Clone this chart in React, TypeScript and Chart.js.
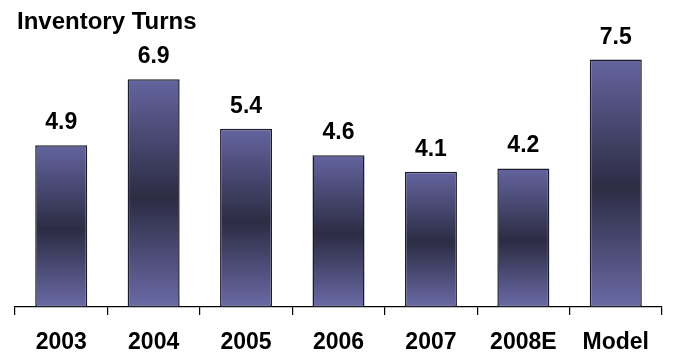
import React, { useEffect, useRef } from "react";
import { Chart, registerables } from "chart.js";

Chart.register(...registerables);

const categories = ["2003", "2004", "2005", "2006", "2007", "2008E", "Model"];
const turns = [4.9, 6.9, 5.4, 4.6, 4.1, 4.2, 7.5];
const valueLabels = ["4.9", "6.9", "5.4", "4.6", "4.1", "4.2", "7.5"];
const chartTitle = "Inventory Turns";

const FONT = "'Liberation Sans', Arial, sans-serif";

export default function App() {
  const ref = useRef<HTMLCanvasElement | null>(null);

  useEffect(() => {
    document.body.style.margin = "0";
    const canvas = ref.current;
    if (!canvas) return;

    const labelsPlugin = {
      id: "valueLabels",
      afterDatasetsDraw(chart: any) {
        const ctx = chart.ctx;
        const meta = chart.getDatasetMeta(0);
        ctx.save();
        ctx.fillStyle = "#000";
        ctx.font = `bold 23px ${FONT}`;
        ctx.textAlign = "center";
        ctx.textBaseline = "alphabetic";
        meta.data.forEach((bar: any, i: number) => {
          ctx.fillText(valueLabels[i], bar.x, bar.y - 16);
        });
        ctx.font = `bold 24px ${FONT}`;
        ctx.textAlign = "left";
        ctx.textBaseline = "alphabetic";
        ctx.fillText(chartTitle, 17, 29);
        ctx.restore();
      },
    };

    const chart = new Chart(canvas, {
      type: "bar",
      data: {
        labels: categories,
        datasets: [
          {
            data: turns,
            backgroundColor: (c: any) => {
              const ch = c.chart;
              const y = ch.scales?.y;
              if (!ch.chartArea || !y || c.raw == null) return "#55558a";
              const top = y.getPixelForValue(c.raw);
              const base = y.getPixelForValue(0);
              const g = ch.ctx.createLinearGradient(0, top, 0, base);
              g.addColorStop(0, "#64649f");
              g.addColorStop(0.52, "#2c2c44");
              g.addColorStop(1, "#6a6aa6");
              return g;
            },
            borderColor: "#1c1c2c",
            borderWidth: 1.5,
            borderSkipped: false,
            categoryPercentage: 1,
            barPercentage: 0.563,
          },
        ],
      },
      options: {
        responsive: false,
        animation: false,
        layout: { padding: { left: 15, right: 12, top: 43, bottom: 0 } },
        plugins: {
          legend: { display: false },
          tooltip: { enabled: false },
          title: { display: false },
        },
        scales: {
          x: {
            offset: true,
            grid: {
              offset: true,
              drawOnChartArea: false,
              drawTicks: true,
              tickLength: 8,
              color: "#000",
              lineWidth: 1.2,
            },
            border: { display: true, color: "#000", width: 1.2 },
            ticks: {
              color: "#000",
              font: { family: FONT, size: 23, weight: "bold" },
              padding: 14,
              maxRotation: 0,
              autoSkip: false,
            },
            afterFit: (s: any) => {
              s.height = 51;
            },
          },
          y: {
            display: false,
            min: 0,
            max: 8,
          },
        },
      },
      plugins: [labelsPlugin],
    });

    return () => chart.destroy();
  }, []);

  return (
    <div style={{ width: 674, height: 358 }}>
      <canvas ref={ref} width={674} height={358} />
    </div>
  );
}
